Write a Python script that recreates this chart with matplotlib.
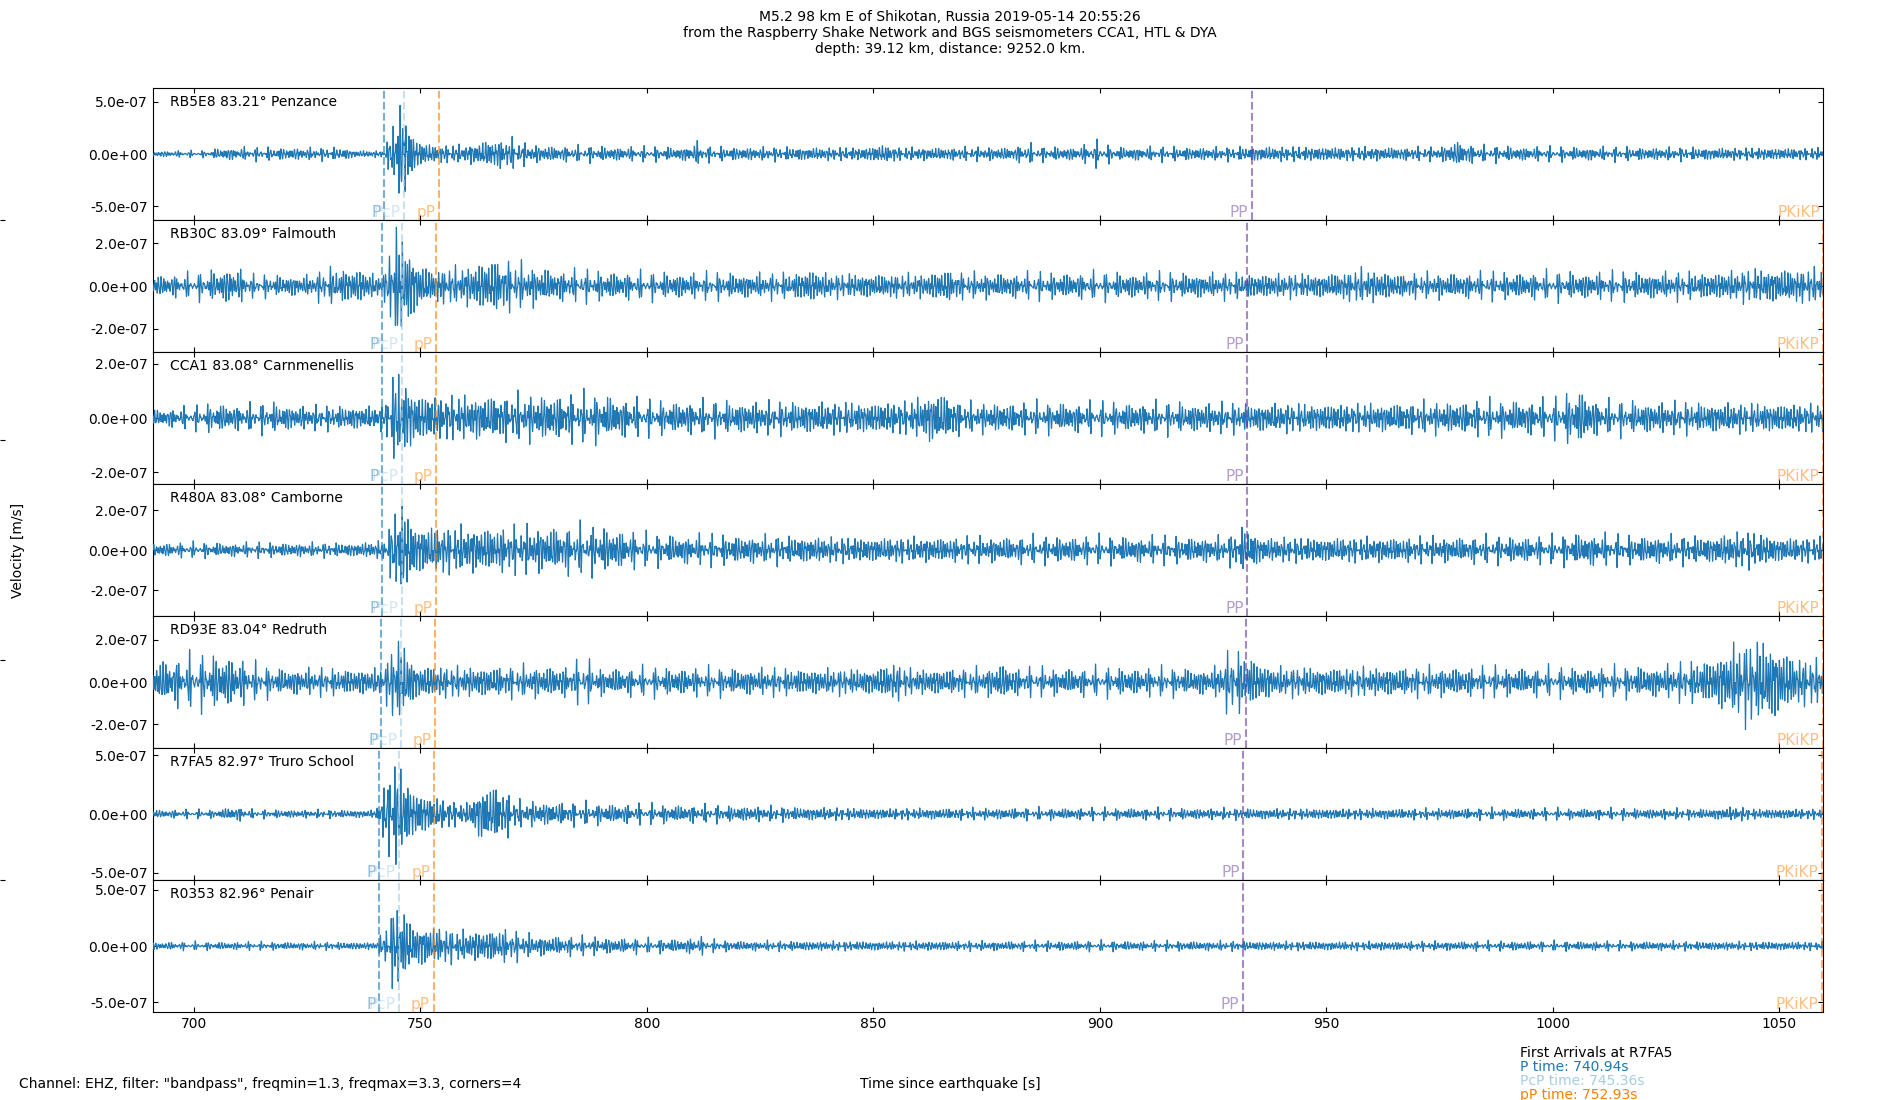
import numpy as np
import matplotlib
matplotlib.use('Agg')
import matplotlib.pyplot as plt
from matplotlib.ticker import FormatStrFormatter

# ---------------- data ----------------
stations = ['RB5E8', 'RB30C', 'CCA1', 'R480A', 'RD93E', 'R7FA5', 'R0353']
distances = [83.21, 83.09, 83.08, 83.08, 83.04, 82.97, 82.96]
places = ['Penzance', 'Falmouth', 'Carnmenellis', 'Camborne', 'Redruth',
          'Truro School', 'Penair']

phase_names = ['P', 'PcP', 'pP', 'PP', 'PKiKP']
p_times = [742.04, 741.49, 741.45, 741.45, 741.26, 740.94, 740.89]
pcp_times = [746.37, 745.86, 745.82, 745.82, 745.65, 745.36, 745.32]
pp_small_times = [754.03, 753.48, 753.44, 753.44, 753.25, 752.93, 752.88]
pp_times = [933.50, 932.55, 932.47, 932.47, 932.15, 931.60, 931.52]
pkikp_times = [1059.86, 1059.63, 1059.61, 1059.61, 1059.53, 1059.40, 1059.38]

phase_colors = ['#1f78b4', '#a6cee3', '#ff7f00', '#6a3d9a', '#ff7f00']

y_limits = [6.3e-7, 3.07e-7, 2.43e-7, 3.3e-7, 3.14e-7, 5.6e-7, 5.86e-7]
y_ticks = [[-5e-7, 0, 5e-7], [-2e-7, 0, 2e-7], [-2e-7, 0, 2e-7],
           [-2e-7, 0, 2e-7], [-2e-7, 0, 2e-7], [-5e-7, 0, 5e-7],
           [-5e-7, 0, 5e-7]]

x_limits = (690.94, 1059.65)

# amplitude envelopes (time [s], peak amplitude [1e-7 m/s])
env_RB5E8_t = [690, 703, 706, 733, 736, 742, 744, 745.5, 747, 749, 753, 760, 766, 770,
               774, 780, 800, 808, 811, 814, 848, 852, 856, 880, 884, 887, 895, 899,
               903, 930, 935, 975, 979, 983, 1000, 1060]
env_RB5E8_a = [0.3, 0.3, 0.6, 0.6, 0.35, 0.35, 3.0, 5.3, 3.8, 1.5, 0.9, 0.9, 1.5, 1.5,
               0.9, 0.75, 0.65, 0.65, 1.1, 0.65, 0.65, 0.95, 0.65, 0.65, 0.95, 0.65,
               0.65, 1.2, 0.65, 0.65, 0.75, 0.65, 1.3, 0.75, 0.65, 0.6]

env_RB30C_t = [690, 700, 709, 713, 725, 730, 737, 740, 742, 744.5, 747, 749, 752, 760,
               766, 772, 780, 800, 832, 836, 840, 862, 866, 870, 950, 958, 966, 1035,
               1045, 1060]
env_RB30C_a = [0.5, 0.55, 0.9, 0.5, 0.5, 0.85, 0.85, 0.55, 0.65, 2.9, 2.2, 1.3, 0.85,
               0.95, 1.4, 1.05, 0.75, 0.6, 0.6, 0.85, 0.6, 0.6, 0.85, 0.6, 0.6, 0.85,
               0.6, 0.65, 0.85, 0.85]

env_CCA1_t = [690, 700, 705, 710, 718, 722, 740, 742, 744.5, 747, 749, 755, 790, 800,
              850, 858, 864, 870, 960, 1000, 1003, 1006, 1010, 1060]
env_CCA1_a = [0.3, 0.4, 0.55, 0.45, 0.55, 0.45, 0.45, 0.5, 1.9, 1.4, 0.95, 0.85, 0.85,
              0.6, 0.6, 0.65, 1.05, 0.55, 0.55, 0.65, 0.85, 1.05, 0.6, 0.55]

env_R480A_t = [690, 735, 742, 744, 745.5, 747, 749, 760, 790, 800, 850, 928, 932, 936,
               1000, 1007, 1015, 1035, 1043, 1050, 1060]
env_R480A_a = [0.35, 0.35, 0.5, 1.8, 2.7, 2.1, 1.3, 1.2, 1.15, 0.75, 0.65, 0.65, 1.2,
               0.65, 0.65, 0.85, 0.7, 0.7, 1.0, 0.65, 0.65]

env_RD93E_t = [690, 700, 707, 713, 718, 740, 742, 744.5, 747, 749, 760, 782, 786, 790,
               850, 855, 858, 875, 878, 882, 925, 929, 933, 938, 1010, 1025, 1035, 1042,
               1048, 1053, 1060]
env_RD93E_a = [1.0, 1.2, 1.3, 0.85, 0.65, 0.65, 0.75, 2.3, 1.7, 0.85, 0.75, 0.75, 1.05,
               0.65, 0.65, 1.0, 0.65, 0.65, 0.9, 0.65, 0.65, 1.6, 1.3, 0.75, 0.65, 0.8,
               1.15, 2.1, 2.1, 1.3, 1.05]

env_R7FA5_t = [690, 705, 709, 713, 740, 741.5, 743.5, 745.5, 748, 752, 760, 764, 767,
               772, 790, 850, 1035, 1040, 1045, 1060]
env_R7FA5_a = [0.35, 0.35, 0.65, 0.35, 0.35, 1.6, 4.8, 4.4, 2.3, 1.6, 0.85, 2.6, 2.5,
               1.1, 0.85, 0.5, 0.45, 0.65, 0.45, 0.45]

env_R0353_t = [690, 740, 742, 744, 746, 748, 755, 760, 768, 775, 800, 808, 811, 814,
               820, 1060]
env_R0353_a = [0.35, 0.35, 1.3, 4.0, 3.8, 2.1, 1.7, 1.4, 1.6, 0.95, 0.6, 0.6, 0.85,
               0.55, 0.45, 0.4]

envelopes = [(env_RB5E8_t, env_RB5E8_a), (env_RB30C_t, env_RB30C_a),
             (env_CCA1_t, env_CCA1_a), (env_R480A_t, env_R480A_a),
             (env_RD93E_t, env_RD93E_a), (env_R7FA5_t, env_R7FA5_a),
             (env_R0353_t, env_R0353_a)]

title = ('M5.2 98 km E of Shikotan, Russia 2019-05-14 20:55:26\n'
         'from the Raspberry Shake Network and BGS seismometers CCA1, HTL & DYA\n'
         'depth: 39.12 km, distance: 9252.0 km.')
channel_text = 'Channel: EHZ, filter: "bandpass", freqmin=1.3, freqmax=3.3, corners=4'
arrival_lines = ['First Arrivals at R7FA5', 'P time: 740.94s',
                 'PcP time: 745.36s', 'pP time: 752.93s']
arrival_colors = ['black', '#1f78b4', '#a6cee3', '#ff7f00']

# ---------------- figure ----------------
fig = plt.figure(figsize=(19, 11), dpi=100)
bg = fig.add_axes([0, 0, 1, 1], frameon=False, zorder=-5)
bg.set_xticks([])
bg.set_yticks([0.2, 0.4, 0.6, 0.8])
bg.set_xlim(0, 1)
bg.set_ylim(0, 1)
bg.tick_params(axis='y', direction='in', labelleft=False, length=3.5, width=0.8)

fig.subplots_adjust(left=0.0805, right=0.9595, top=0.92, bottom=0.08, hspace=0)
n = len(stations)
axes = [fig.add_subplot(n, 1, i + 1) for i in range(n)]

# time axis of the traces (50 samples per second)
t = np.arange(x_limits[0] - 1, x_limits[1] + 1, 0.02)
freqs = [1.37, 1.71, 2.06, 2.47, 2.89, 3.23]
weights = [1.0, 0.95, 0.85, 0.7, 0.55, 0.4]

for i, ax in enumerate(axes):
    carrier = np.zeros_like(t)
    for k, (f, w) in enumerate(zip(freqs, weights)):
        carrier += w * np.sin(2 * np.pi * f * t + 1.7 * k * (i + 1) + 0.9 * i)
    carrier /= np.percentile(np.abs(carrier), 98.5)
    et, ea = envelopes[i]
    env = np.interp(t, et, ea) * 1e-7
    trace = carrier * env
    ax.plot(t, trace, color='#1f77b4', lw=0.85, zorder=3)

    times = [p_times[i], pcp_times[i], pp_small_times[i], pp_times[i], pkikp_times[i]]
    ylim = y_limits[i]
    ax.set_ylim(-ylim, ylim)
    ax.set_xlim(*x_limits)
    for name, tt, col in zip(phase_names, times, phase_colors):
        ax.axvline(tt, color=col, ls='--', lw=1.5, alpha=0.6, zorder=4)
        ax.annotate(name, xy=(tt, -ylim), xytext=(-2.5, 0), textcoords='offset points',
                    ha='right', va='bottom', color=col, alpha=0.5, fontsize=11,
                    annotation_clip=False, zorder=5)

    ax.text(0.01, 0.95, f'{stations[i]} {distances[i]:.2f}\u00b0 {places[i]}',
            transform=ax.transAxes, ha='left', va='top', fontsize=10, zorder=6)
    ax.set_yticks(y_ticks[i])
    ax.yaxis.set_major_formatter(FormatStrFormatter('%.1e'))
    ax.tick_params(axis='both', direction='in', top=True, right=True, labelsize=10)
    if i < n - 1:
        ax.tick_params(axis='x', labelbottom=False)

fig.text(0.5, 0.970, title, ha='center', va='center', fontsize=10,
         multialignment='center')
fig.text(0.0095, 0.5, 'Velocity [m/s]', rotation=90, ha='center', va='center',
         fontsize=10)
fig.text(0.5, 0.0145, 'Time since earthquake [s]', ha='center', va='center',
         fontsize=10)
fig.text(0.0102, 0.0145, channel_text, ha='left', va='center', fontsize=10)
arrival_y = [0.0425, 0.0298, 0.0171, 0.0046]
for line, col, yy in zip(arrival_lines, arrival_colors, arrival_y):
    fig.text(0.8, yy, line, ha='left', va='center', fontsize=10, color=col)

fig.savefig('out.png', dpi=100)
